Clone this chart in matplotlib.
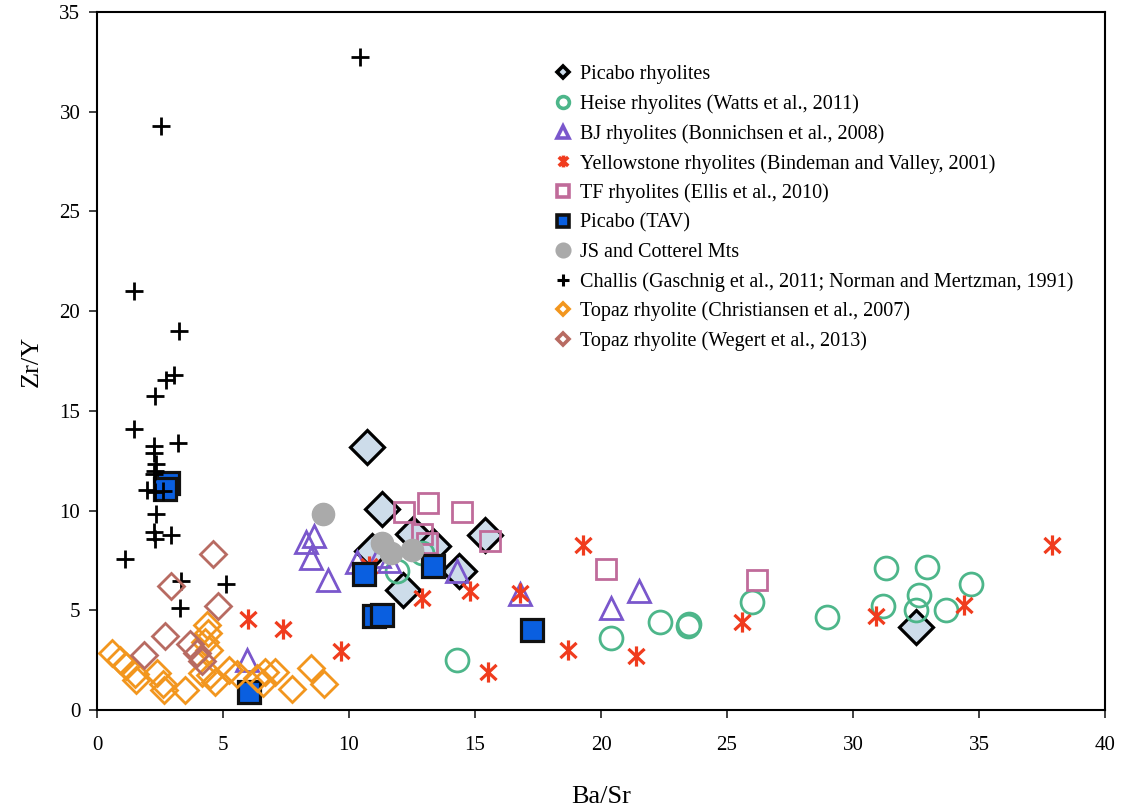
import matplotlib
matplotlib.use("Agg")
import matplotlib.pyplot as plt
from matplotlib.path import Path
from matplotlib.lines import Line2D

plt.rcParams['font.family'] = ['Liberation Serif', 'DejaVu Serif']

# ---- data: (Ba/Sr, Zr/Y) pairs per rock suite ----
picabo_rhy_x = [10.7, 11.3, 12.55, 13.35, 15.4, 14.35, 12.15, 10.9, 32.5]
picabo_rhy_y = [13.2, 10.1, 8.85, 8.2, 8.8, 6.95, 6.0, 7.95, 4.15]

heise_x = [14.3, 11.9, 12.9, 20.4, 22.35, 23.45, 23.5, 26.0, 28.95, 31.3, 32.95, 32.6, 31.2, 32.5, 33.7, 34.7]
heise_y = [2.5, 6.95, 7.85, 3.6, 4.4, 4.2, 4.3, 5.4, 4.65, 7.1, 7.15, 5.75, 5.2, 5.0, 5.0, 6.3]

bj_x = [8.3, 8.6, 8.5, 9.15, 10.3, 11.2, 11.6, 14.3, 16.8, 20.4, 21.5, 5.95]
bj_y = [8.4, 8.7, 7.6, 6.5, 7.4, 7.7, 7.45, 6.95, 5.8, 5.1, 5.95, 2.5]

yellowstone_x = [6.0, 7.4, 9.7, 10.8, 12.9, 14.8, 16.8, 15.5, 18.7, 19.3, 21.4, 25.6, 30.9, 34.4, 37.9]
yellowstone_y = [4.55, 4.05, 2.95, 7.2, 5.6, 5.95, 5.85, 1.9, 3.0, 8.25, 2.7, 4.4, 4.7, 5.25, 8.25]

tf_x = [12.2, 13.15, 14.5, 12.9, 13.1, 15.6, 20.2, 26.2]
tf_y = [9.95, 10.4, 9.95, 8.85, 8.35, 8.45, 7.05, 6.5]

tav_x = [2.8, 2.7, 10.6, 11.0, 11.3, 13.35, 17.25, 6.05]
tav_y = [11.4, 11.1, 6.8, 4.7, 4.75, 7.2, 4.0, 0.9]

js_x = [8.95, 11.3, 11.65, 12.5]
js_y = [9.85, 8.35, 7.85, 8.0]

challis_x = [10.45, 2.55, 1.45, 3.25, 3.05, 2.75, 2.3, 1.45, 3.2, 2.25, 2.25, 2.35, 2.3, 2.25,
             2.0, 2.3, 2.6, 2.35, 2.25, 2.95, 2.3, 1.1, 3.35, 5.1, 3.3]
challis_y = [32.75, 29.3, 21.0, 19.0, 16.8, 16.55, 15.75, 14.1, 13.4, 13.25, 12.9, 12.35, 12.0, 11.85,
             11.05, 10.95, 11.0, 9.85, 8.95, 8.8, 8.55, 7.55, 6.45, 6.3, 5.1]

topaz_c_x = [0.6, 0.9, 1.15, 1.5, 1.55, 2.4, 2.6, 2.65, 3.5, 4.35, 4.4, 4.3, 4.45, 4.15, 4.5, 4.7,
             5.25, 5.55, 6.35, 6.65, 6.6, 7.05, 7.75, 8.5, 9.0]
topaz_c_y = [2.85, 2.5, 2.2, 1.8, 1.5, 1.85, 1.3, 1.0, 1.0, 4.25, 3.85, 3.4, 3.0, 1.85, 1.75, 1.4,
             2.0, 1.8, 1.6, 1.9, 1.35, 1.9, 1.05, 2.1, 1.3]

topaz_w_x = [4.6, 2.95, 4.8, 2.7, 1.85, 3.7, 3.95, 4.15]
topaz_w_y = [7.8, 6.2, 5.2, 3.7, 2.75, 3.3, 2.85, 2.45]

labels = [
    "Picabo rhyolites",
    "Heise rhyolites (Watts et al., 2011)",
    "BJ rhyolites (Bonnichsen et al., 2008)",
    "Yellowstone rhyolites (Bindeman and Valley, 2001)",
    "TF rhyolites (Ellis et al., 2010)",
    "Picabo (TAV)",
    "JS and Cotterel Mts",
    "Challis (Gaschnig et al., 2011; Norman and Mertzman, 1991)",
    "Topaz rhyolite (Christiansen et al., 2007)",
    "Topaz rhyolite (Wegert et al., 2013)",
]

# six-armed star: vertical bar plus an X
star = Path([(0, -1), (0, 1), (-0.8, -0.75), (0.8, 0.75), (-0.8, 0.75), (0.8, -0.75)],
            [Path.MOVETO, Path.LINETO, Path.MOVETO, Path.LINETO, Path.MOVETO, Path.LINETO])

styles = [
    dict(marker='D', ms=17, mfc='#cddcea', mec='black', mew=2.3),
    dict(marker='o', ms=16.5, mfc='none', mec='#4db68a', mew=2.0),
    dict(marker='^', ms=16.5, mfc='none', mec='#7a57cc', mew=2.0),
    dict(marker=star, ms=14.5, color='#f03c1e', mew=2.3),
    dict(marker='s', ms=15, mfc='none', mec='#c06b9a', mew=2.0),
    dict(marker='s', ms=16, mfc='#0a5fe0', mec='#111111', mew=2.3),
    dict(marker='o', ms=16, mfc='#aaaaaa', mec='#aaaaaa', mew=1.0),
    dict(marker='+', ms=13, color='black', mew=2.0),
    dict(marker='D', ms=13, mfc='none', mec='#f2961e', mew=2.0),
    dict(marker='D', ms=13, mfc='none', mec='#b86b62', mew=2.0),
]
legend_ms = [6.5, 8.5, 8.5, 8.5, 8.5, 8.5, 9, 8.5, 6.5, 6.5]

series = [
    (picabo_rhy_x, picabo_rhy_y), (heise_x, heise_y), (bj_x, bj_y),
    (yellowstone_x, yellowstone_y), (tf_x, tf_y), (tav_x, tav_y),
    (js_x, js_y), (challis_x, challis_y), (topaz_c_x, topaz_c_y),
    (topaz_w_x, topaz_w_y),
]

fig = plt.figure(figsize=(11.25, 8.11), dpi=100)
ax = fig.add_axes([97 / 1125, 1 - 710 / 811, (1105 - 97) / 1125, (710 - 12) / 811])

for (xs, ys), st in zip(series, styles):
    ax.plot(xs, ys, linestyle='none', **st)

ax.set_xlim(0, 40)
ax.set_ylim(0, 35)
ax.set_xticks(range(0, 41, 5))
ax.set_yticks(range(0, 36, 5))
ax.tick_params(axis='x', direction='out', length=6, width=1.3, pad=13, labelsize=15, color='#333333')
ax.tick_params(axis='y', direction='out', length=6, width=1.3, pad=6, labelsize=15, color='#333333')
for sp in ax.spines.values():
    sp.set_linewidth(1.5)
    sp.set_color('black')

ax.set_xlabel("Ba/Sr", fontsize=19, labelpad=22)
ax.set_ylabel("Zr/Y", fontsize=19, labelpad=12)

handles = []
for st, ms in zip(styles, legend_ms):
    h = dict(st)
    h['ms'] = ms
    h['mew'] = 2.6 if st['marker'] != '+' else 2.2
    handles.append(Line2D([], [], linestyle='none', **h))

ax.legend(handles, labels, loc='upper left', bbox_to_anchor=(556 / 1125, 1 - 65 / 811),
          bbox_transform=fig.transFigure, frameon=False, fontsize=14.5,
          handlelength=0.7, handletextpad=0.5, labelspacing=0.5,
          borderpad=0, borderaxespad=0)

fig.savefig("out.png", dpi=100)
